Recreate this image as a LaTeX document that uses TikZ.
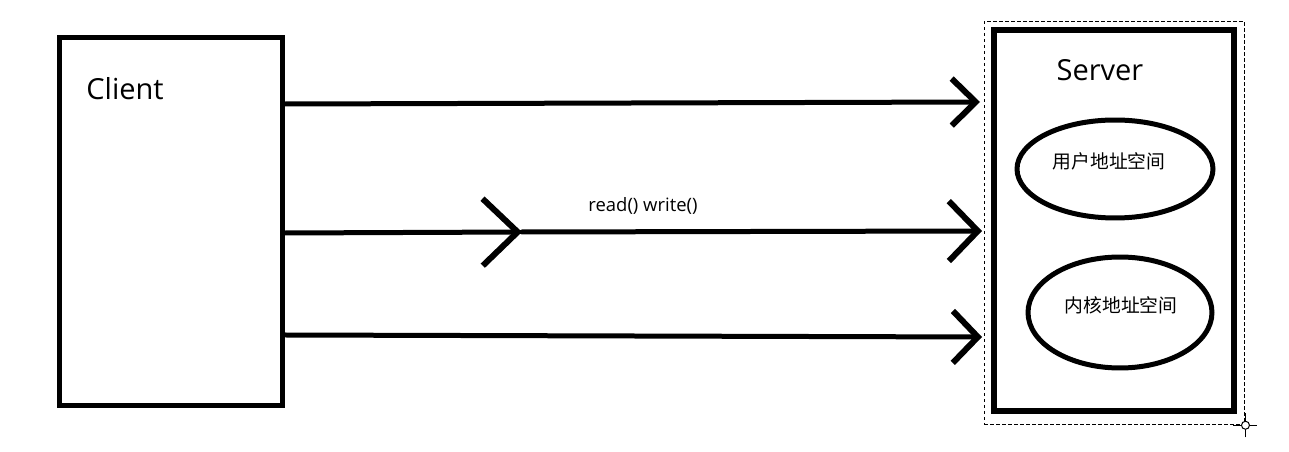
\documentclass[tikz,border=0pt]{standalone}
\usepackage{fontspec}
\setmainfont{Open Sans}
\newfontfamily\cjk{Noto Sans CJK SC}
\usetikzlibrary{arrows.meta,shapes.geometric,positioning}

\begin{document}
\begin{tikzpicture}[x=0.02cm, y=-0.02cm,
    box/.style={draw=black, rectangle, inner sep=0pt},
    space/.style={draw=black, ellipse, line width=0.1cm, inner sep=0pt},
    spacename/.style={inner sep=0pt, font=\cjk\fontsize{10.7}{12}\selectfont},
    title/.style={inner sep=0pt, font=\fontsize{16.5}{20}\selectfont},
    link/.style={line width=0.1cm, line cap=round}]
    \useasboundingbox (0,0) rectangle (1289,452);
    % client side
    \node[box, line width=0.1cm, minimum width=4.48cm, minimum height=7.38cm] (client) at (171,221.5) {};
    \node[title] (clientname) at (125,89) {Client};
    % server side with the selection frame round it
    \node[box, line width=0.02cm, dash pattern=on 0.07cm off 0.05cm, minimum width=5.22cm, minimum height=8.06cm] (frame) at (1114.5,223.3) {};
    \node[box, line width=0.12cm, minimum width=4.8cm, minimum height=7.62cm] (server) at (1114,220.5) {};
    \node[title] (servername) at (1100,70) {Server};
    \node[space, minimum width=3.92cm, minimum height=1.96cm] (user) at (1115,169) {};
    \node[spacename] (username) at (1109,161) {用户地址空间};
    \node[space, minimum width=3.68cm, minimum height=2.22cm] (kernel) at (1120,312.5) {};
    \node[spacename] (kernelname) at (1121,305) {内核地址空间};
    % handle at the corner of the frame
    \coordinate (handle) at (frame.south east);
    \draw[line width=0.02cm] ([yshift=-0.24cm]handle) -- ([yshift=0.24cm]handle);
    \draw[line width=0.02cm] ([xshift=-0.24cm]handle) -- ([xshift=0.24cm]handle);
    \filldraw[fill=white, draw=black, line width=0.02cm] (handle) circle (0.08cm);
    % connectors
    \coordinate (a1) at (980,102);
    \coordinate (a2) at (982,231);
    \coordinate (m2) at (522,232);
    \coordinate (a3) at (982,337);
    \draw[link, -{Straight Barb[length=0.48cm, width=0.94cm, line width=0.12cm]}] (client.east |- 0,104) -- (a1);
    \draw[link, -{Straight Barb[length=0.7cm, width=1.34cm, line width=0.12cm]}] (client.east |- 0,233) -- (m2);
    \draw[link, -{Straight Barb[length=0.58cm, width=1.2cm, line width=0.12cm]}] (m2) -- (a2);
    \draw[link, -{Straight Barb[length=0.5cm, width=1.04cm, line width=0.12cm]}] (client.east |- 0,335) -- (a3);
    \node[inner sep=0pt, font=\fontsize{10.5}{12}\selectfont] (calls) at (643,206) {read() write()};
\end{tikzpicture}
\end{document}
